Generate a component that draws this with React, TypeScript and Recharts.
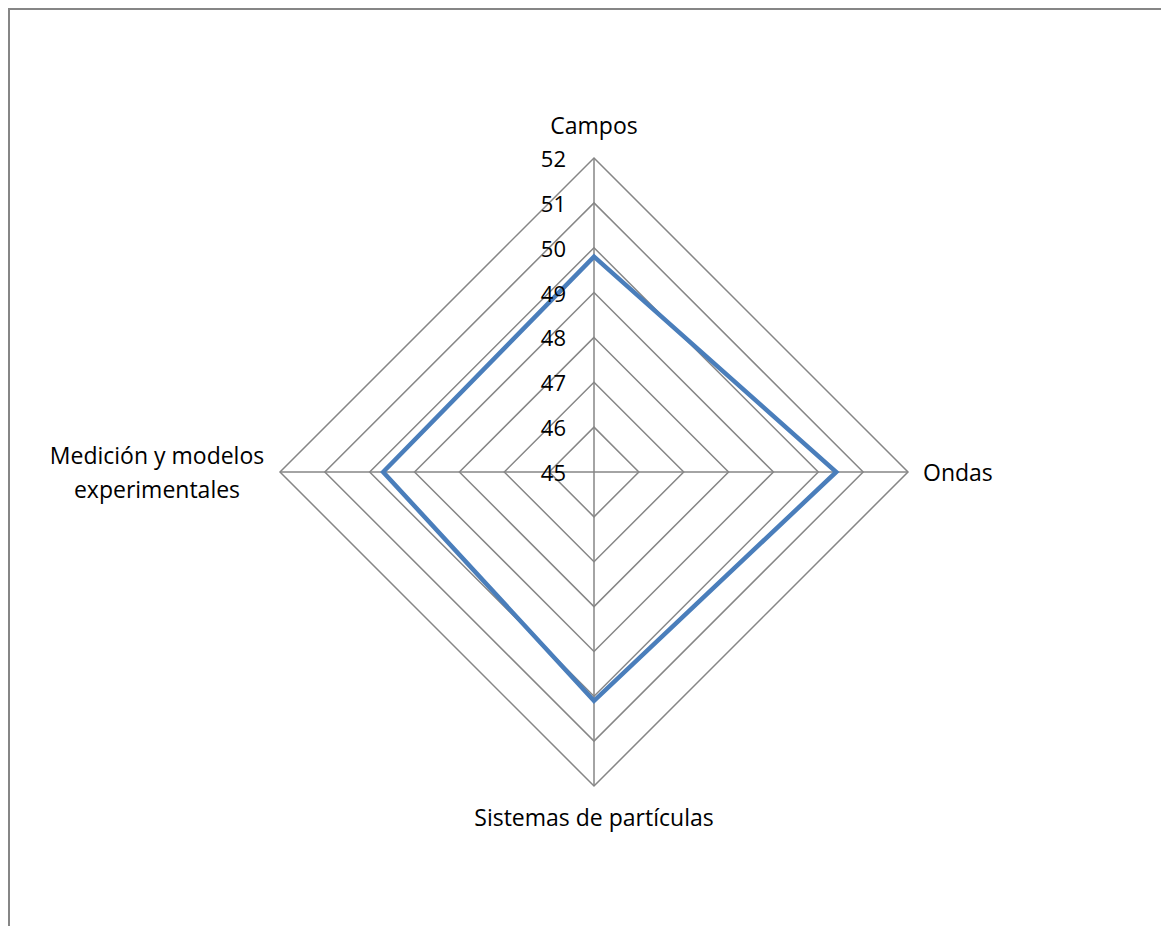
import * as React from "react";
import { PolarAngleAxis, PolarGrid, PolarRadiusAxis, Radar, RadarChart } from "recharts";

const categories = ["Campos", "Ondas", "Sistemas de partículas", "Medición y modelos experimentales"];
const scores = [49.8, 50.4, 50.1, 49.7];
const radiusTicks = [45, 46, 47, 48, 49, 50, 51, 52];

const data = categories.map((name, i) => ({ name, value: scores[i] }));

const FONT = "'Open Sans', 'Noto Sans', sans-serif";
const GRID = "#868686";
const BLUE = "#4a7ebb";

function RadiusTick({ x, y, payload }: any) {
  return (
    <text
      x={x - 28}
      y={y}
      textAnchor="end"
      dominantBaseline="central"
      fontFamily={FONT}
      fontSize={22}
      fill="#000"
    >
      {payload.value}
    </text>
  );
}

function AngleTick({ x, y, payload }: any) {
  const common = { fontFamily: FONT, fontSize: 23, fill: "#000", dominantBaseline: "central" as const };
  const v: string = payload.value;
  if (v === "Campos") {
    return <text x={x} y={y - 25} textAnchor="middle" {...common}>{v}</text>;
  }
  if (v === "Ondas") {
    return <text x={x + 7} y={y} textAnchor="start" {...common}>{v}</text>;
  }
  if (v === "Sistemas de partículas") {
    return <text x={x} y={y + 23} textAnchor="middle" {...common}>{v}</text>;
  }
  // long label wraps over two lines
  return (
    <text textAnchor="middle" {...common}>
      <tspan x={x - 115} y={y - 17}>Medición y modelos</tspan>
      <tspan x={x - 115} y={y + 17}>experimentales</tspan>
    </text>
  );
}

export default function App() {
  return (
    <div
      style={{
        width: 1175,
        height: 930,
        borderTop: `2px solid ${GRID}`,
        borderLeft: `2px solid ${GRID}`,
        background: "#fff",
        boxSizing: "border-box",
      }}
    >
      <RadarChart
        width={1160}
        height={918}
        data={data}
        cx={584}
        cy={462}
        outerRadius={314}
        startAngle={90}
        endAngle={-270}
        margin={{ top: 0, right: 0, bottom: 0, left: 0 }}
      >
        <PolarGrid gridType="polygon" stroke={GRID} strokeWidth={1.5} strokeOpacity={1} />
        <PolarAngleAxis dataKey="name" tick={AngleTick} tickLine={false} axisLine={false} />
        <PolarRadiusAxis
          angle={90}
          domain={[45, 52]}
          ticks={radiusTicks}
          tickCount={8}
          tick={RadiusTick}
          axisLine={false}
          tickLine={false}
        />
        <Radar
          dataKey="value"
          stroke={BLUE}
          strokeWidth={4.5}
          strokeLinejoin="miter"
          fill="none"
          fillOpacity={0}
          dot={false}
          isAnimationActive={false}
        />
      </RadarChart>
    </div>
  );
}
